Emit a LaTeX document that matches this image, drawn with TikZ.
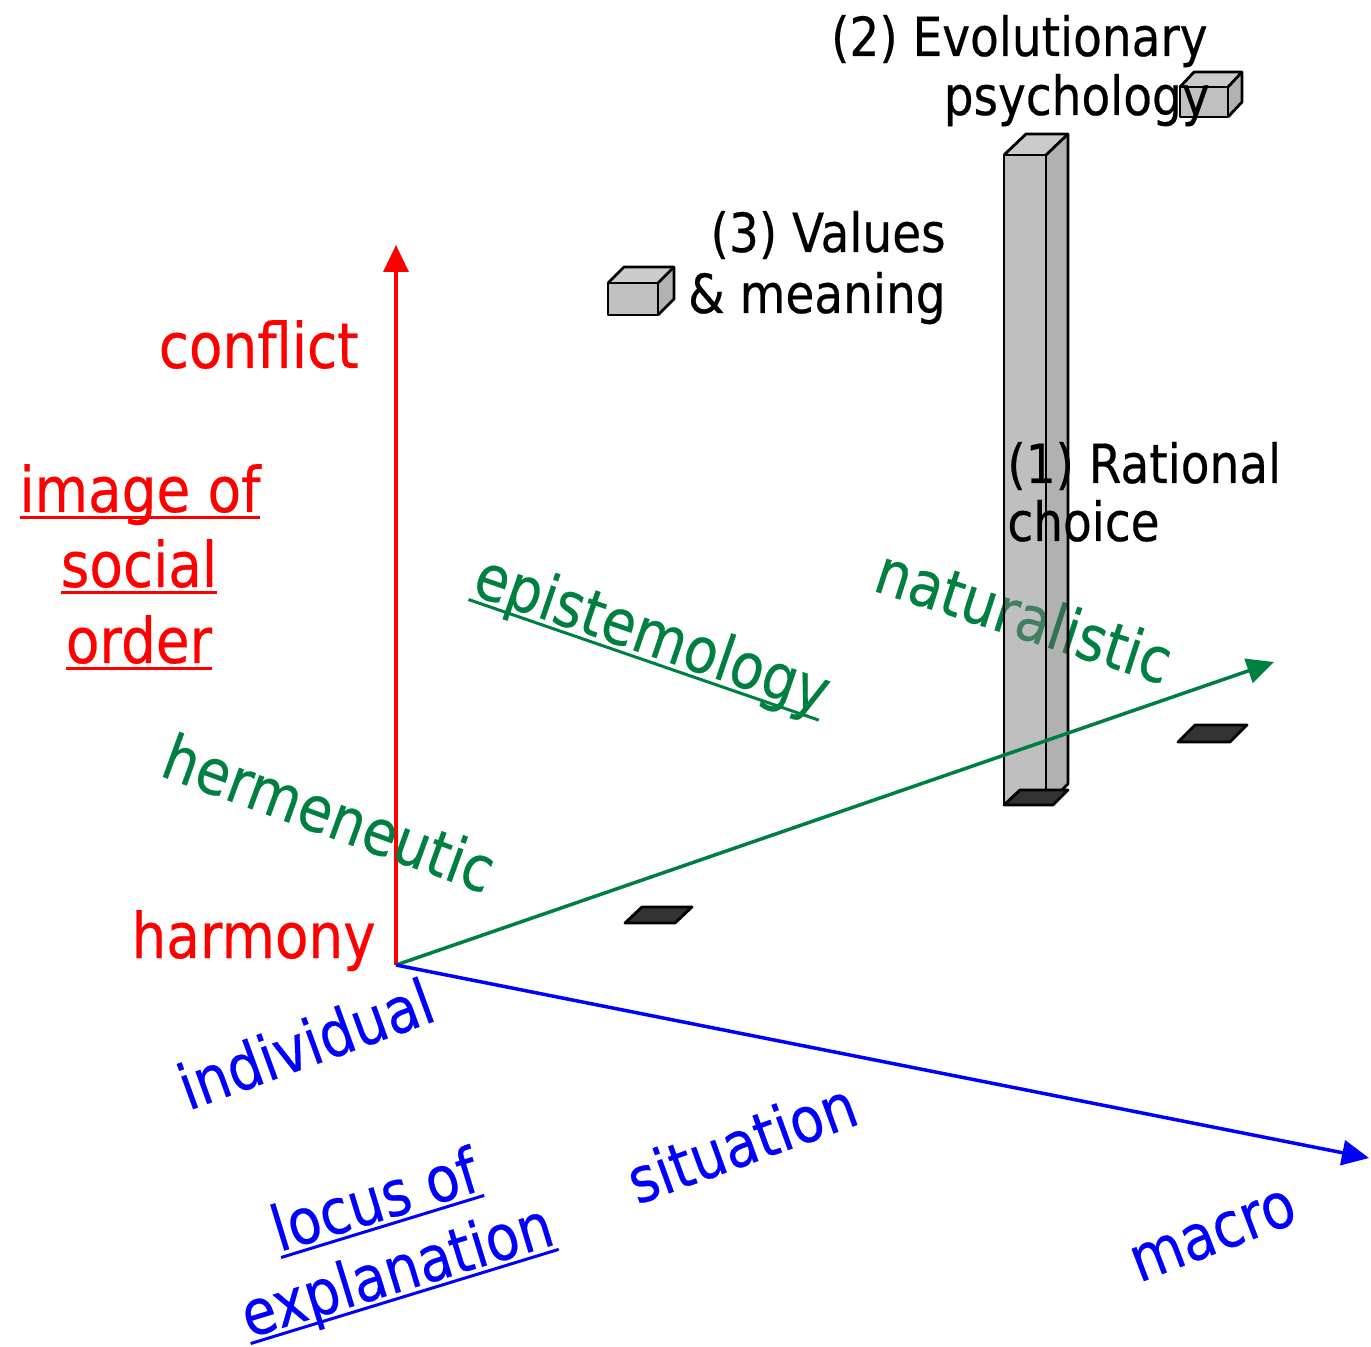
\documentclass[tikz,border=0pt]{standalone}
\usepackage{fontspec}
\setmainfont{DejaVu Sans}[FakeStretch=0.87,FakeBold=0.4]
\newsavebox{\ulbox}
\newcommand{\myul}[1]{\sbox{\ulbox}{#1}\rlap{\rule[-3.6pt]{\wd\ulbox}{1.5pt}}\usebox{\ulbox}}
\usetikzlibrary{arrows.meta}
\definecolor{axred}{RGB}{255,0,0}
\definecolor{axgreen}{RGB}{0,128,64}
\definecolor{axblue}{RGB}{0,0,255}
\definecolor{boxfront}{RGB}{192,192,192}
\definecolor{boxside}{RGB}{178,178,178}
\definecolor{boxtop}{RGB}{204,204,204}
% bar colours, drawn at 50% over the text so that over white they give the colours above
\definecolor{barfront}{RGB}{129,129,129}
\definecolor{barside}{RGB}{101,101,101}
\definecolor{bartop}{RGB}{153,153,153}
\definecolor{basedark}{RGB}{51,51,51}
\newcommand{\cuboid}[7][1]{% [1=opaque box, 2=bar] x1 ytop x2 ybot dx dy
  \ifnum#1=1\relax
    \def\cf{boxfront}\def\ct{boxtop}\def\cs{boxside}\def\op{1}%
  \else
    \def\cf{barfront}\def\ct{bartop}\def\cs{barside}\def\op{0.5}%
  \fi
  \fill[\cf,fill opacity=\op] (#2,#3) rectangle (#4,#5);
  \fill[\ct,fill opacity=\op] (#2,#3) -- ({#2+#6},{#3+#7}) -- ({#4+#6},{#3+#7}) -- (#4,#3) -- cycle;
  \fill[\cs,fill opacity=\op] (#4,#3) -- ({#4+#6},{#3+#7}) -- ({#4+#6},{#5+#7}) -- (#4,#5) -- cycle;
  \draw[edge] (#2,#3) rectangle (#4,#5);
  \draw[edge] (#2,#3) -- ({#2+#6},{#3+#7}) -- ({#4+#6},{#3+#7}) -- ({#4+#6},{#5+#7}) -- (#4,#5);
  \draw[edge] (#4,#3) -- ({#4+#6},{#3+#7});
}
\tikzset{
  edge/.style={draw=black,line width=1.4pt,line join=round},
  axis/.style={line width=1.75pt,-{Triangle[length=13.5pt,width=12.5pt]}},
  lbl/.style={inner sep=0pt,font=\fontsize{31.5}{38}\selectfont},
  blk/.style={inner sep=0pt,font=\fontsize{27}{32}\selectfont,text=black},
  basepad/.style={edge,fill=basedark},
}
\begin{document}
\begin{tikzpicture}[x=0.5pt,y=-0.5pt]
\useasboundingbox (0,0) rectangle (1371,1347);
\fill[white] (0,0) rectangle (1371,1347);

% small cuboids
\cuboid{608}{283}{658}{315}{16}{-16}
\cuboid{1180}{87}{1228}{117}{14}{-15}

% text under the bar
\node[lbl,text=axgreen,rotate=-18,anchor=base west] (nat) at (871,590) {naturalistic};

% tall bar
\cuboid[2]{1004}{155}{1046}{805}{22}{-21}

% dark base pads
\filldraw[basepad] (1004,805) -- (1053,805) -- (1068,790) -- (1020,790) -- cycle;
\filldraw[basepad] (625,923) -- (675,923) -- (692,907) -- (642,907) -- cycle;
\filldraw[basepad] (1178,742) -- (1230,742) -- (1247,725) -- (1195,725) -- cycle;

% axes
\coordinate (O) at (396,965);
\coordinate (redtip) at (396,245);
\coordinate (greentip) at (1274,662);
\coordinate (bluetip) at (1369,1158);
\draw[axis,axred] (O) -- (redtip);
\draw[axis,axgreen] (O) -- (greentip);
\draw[axis,axblue] (O) -- (bluetip);

% red labels
\node[lbl,text=axred,anchor=base east] (conflict) at (359,368) {conflict};
\node[lbl,text=axred,anchor=base east] (harmony) at (376,958) {harmony};
\node[lbl,text=axred,anchor=base] (img1) at (140,512) {\myul{image of}};
\node[lbl,text=axred,anchor=base] (img2) at (139,587) {\myul{social}};
\node[lbl,text=axred,anchor=base] (img3) at (139,663) {\myul{order}};

% green labels
\node[lbl,text=axgreen,rotate=-20,anchor=base west] (herm) at (158,775) {hermeneutic};
\node[lbl,text=axgreen,rotate=-19,anchor=base west] (epi) at (470,594) {\myul{epistemology}};

% blue labels
\node[lbl,text=axblue,rotate=20,anchor=base west] (indiv) at (188,1111) {individual};
\node[lbl,text=axblue,rotate=20,anchor=base west] (sit) at (637,1205) {situation};
\node[lbl,text=axblue,rotate=21,anchor=base west] (macro) at (1139,1283) {macro};
\node[lbl,text=axblue,rotate=17,anchor=base] (loc1) at (381,1221) {\myul{locus of}};
\node[lbl,text=axblue,rotate=17,anchor=base] (loc2) at (403,1291) {\myul{explanation}};

% black labels
\node[blk,anchor=base east] (evo1) at (1208,56) {(2) Evolutionary};
\node[blk,anchor=base east] (evo2) at (1210,115) {psychology};
\node[blk,anchor=base east] (val1) at (946,252) {(3) Values};
\node[blk,anchor=base east] (val2) at (946,313) {\& meaning};
\node[blk,anchor=base west] (rat1) at (1007,483) {(1) Rational};
\node[blk,anchor=base west] (rat2) at (1007,541) {choice};
\end{tikzpicture}
\end{document}
